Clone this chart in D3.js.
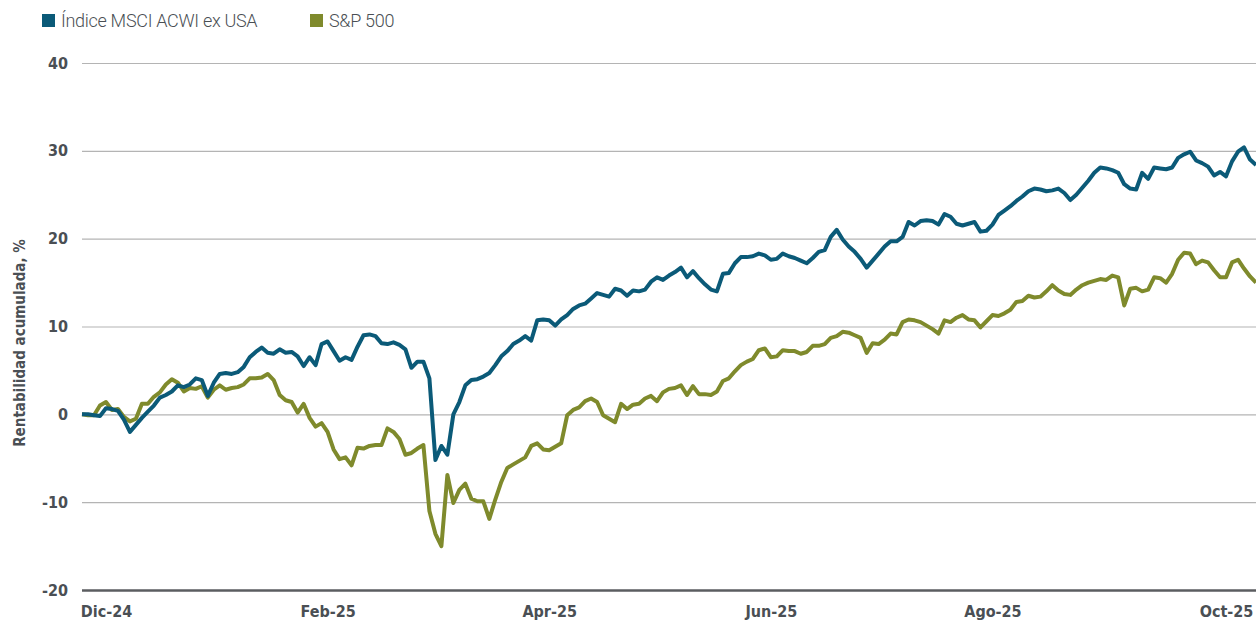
<!DOCTYPE html>
<html>
<head>
<meta charset="utf-8">
<script src="https://cdnjs.cloudflare.com/ajax/libs/d3/7.8.5/d3.min.js"></script>
<style>
  body { margin: 0; background: #fff; }
  .tick text { font-family: "DejaVu Sans Condensed", "DejaVu Sans", sans-serif; font-weight: bold; fill: #4a4f54; }
  .legend text { font-family: Roboto, sans-serif; font-weight: 300; fill: #4a4f54; letter-spacing: -0.3px; }
</style>
</head>
<body>
<div class="chart"></div>
<script>
// acumulado desde 31-dic-2024, %, un punto por sesión (aprox.)
var msci = [
  0.0, 0.0, -0.1, -0.2, 0.7, 0.6, 0.4, -0.6, -2.0, -1.2,
  -0.4, 0.3, 1.0, 1.9, 2.2, 2.6, 3.3, 3.1, 3.4, 4.1,
  3.9, 2.1, 3.6, 4.6, 4.7, 4.6, 4.8, 5.4, 6.5, 7.1,
  7.6, 7.0, 6.9, 7.4, 7.0, 7.1, 6.6, 5.5, 6.5, 5.6,
  8.0, 8.3, 7.2, 6.1, 6.5, 6.2, 7.7, 9.0, 9.1, 8.9,
  8.1, 8.0, 8.2, 7.9, 7.4, 5.3, 6.0, 6.0, 4.1, -5.2,
  -3.6, -4.6, 0.0, 1.4, 3.3, 3.9, 4.0, 4.3, 4.7, 5.6,
  6.6, 7.2, 8.0, 8.4, 8.9, 8.4, 10.7, 10.8, 10.7, 10.1,
  10.8, 11.3, 12.0, 12.4, 12.6, 13.2, 13.8, 13.6, 13.4, 14.3,
  14.1, 13.5, 14.1, 14.0, 14.2, 15.1, 15.6, 15.3, 15.8, 16.2,
  16.7, 15.6, 16.3, 15.5, 14.8, 14.2, 14.0, 16.0, 16.1, 17.2,
  17.9, 17.9, 18.0, 18.3, 18.1, 17.6, 17.7, 18.3, 18.0, 17.8,
  17.5, 17.2, 17.8, 18.5, 18.7, 20.2, 21.0, 19.9, 19.1, 18.5,
  17.7, 16.7, 17.5, 18.3, 19.1, 19.7, 19.7, 20.2, 21.9, 21.5,
  22.0, 22.1, 22.0, 21.6, 22.8, 22.5, 21.7, 21.5, 21.7, 21.9,
  20.8, 20.9, 21.6, 22.7, 23.2, 23.7, 24.3, 24.8, 25.4, 25.7,
  25.6, 25.4, 25.5, 25.7, 25.2, 24.4, 25.0, 25.8, 26.6, 27.5,
  28.1, 28.0, 27.8, 27.5, 26.2, 25.7, 25.6, 27.5, 26.8, 28.1,
  28.0, 27.9, 28.1, 29.2, 29.6, 29.9, 28.9, 28.6, 28.2, 27.2,
  27.6, 27.1, 28.8, 29.9, 30.4, 29.0, 28.4
];

var sp500 = [
  0.0, -0.1, -0.1, 1.0, 1.4, 0.5, 0.6, -0.3, -0.8, -0.5,
  1.2, 1.2, 2.0, 2.5, 3.4, 4.0, 3.6, 2.6, 3.0, 2.9,
  3.2, 1.9, 2.8, 3.3, 2.8, 3.0, 3.1, 3.4, 4.1, 4.1,
  4.2, 4.6, 3.9, 2.2, 1.6, 1.4, 0.2, 1.2, -0.4, -1.4,
  -1.0, -2.0, -4.0, -5.1, -4.9, -5.8, -3.8, -3.9, -3.6, -3.5,
  -3.5, -1.6, -2.0, -2.8, -4.6, -4.4, -3.9, -3.5, -11.0, -13.6,
  -15.0, -6.9, -10.1, -8.6, -7.9, -9.6, -9.9, -9.9, -11.9, -9.7,
  -7.7, -6.1, -5.7, -5.3, -4.9, -3.6, -3.3, -4.0, -4.1, -3.7,
  -3.3, -0.1, 0.5, 0.8, 1.5, 1.8, 1.4, -0.1, -0.5, -0.9,
  1.2, 0.6, 1.1, 1.2, 1.8, 2.1, 1.5, 2.5, 2.9, 3.0,
  3.3, 2.2, 3.2, 2.3, 2.3, 2.2, 2.6, 3.8, 4.1, 4.9,
  5.6, 6.0, 6.3, 7.3, 7.5, 6.5, 6.6, 7.3, 7.2, 7.2,
  6.9, 7.1, 7.8, 7.8, 8.0, 8.7, 8.9, 9.4, 9.3, 9.0,
  8.7, 7.0, 8.1, 8.0, 8.5, 9.2, 9.1, 10.5, 10.8, 10.7,
  10.5, 10.1, 9.7, 9.2, 10.7, 10.5, 11.0, 11.3, 10.8, 10.7,
  9.9, 10.6, 11.3, 11.2, 11.5, 11.9, 12.8, 12.9, 13.5, 13.3,
  13.4, 14.0, 14.7, 14.1, 13.7, 13.6, 14.2, 14.7, 15.0, 15.2,
  15.4, 15.3, 15.8, 15.6, 12.4, 14.3, 14.4, 14.0, 14.2, 15.6,
  15.5, 15.0, 16.0, 17.6, 18.4, 18.3, 17.1, 17.5, 17.3, 16.4,
  15.6, 15.6, 17.3, 17.6, 16.6, 15.7, 15.0
];

var tickIdx = [4, 41, 78, 115, 152, 191],
tickLabels = ["Dic-24", "Feb-25", "Apr-25", "Jun-25", "Ago-25", "Oct-25"],
yTicks = [-20, -10, 0, 10, 20, 30, 40],
seriesNames = ["Índice MSCI ACWI ex USA", "S&P 500"];

var colors = ["#0b5a78", "#7f8a2c"],
w = 1256,
h = 621,
padL = 82,
padT = 63,
baseY = 590;

var svg = d3.select(".chart")
  .append("svg")
  .attr("width", w)
  .attr("height", h);

var x = d3.scaleLinear()
  .domain([0, msci.length - 1])
  .range([padL, w]);

var y = d3.scaleLinear()
  .domain([-20, 40])
  .range([baseY, padT]);

// rejilla horizontal + etiquetas del eje y
var yAxis = svg.append("g")
  .attr("transform", "translate(" + padL + ",0)")
  .call(d3.axisLeft(y).tickValues(yTicks).tickFormat(d => String(d)).tickSize(-(w - padL)).tickPadding(14));

yAxis.select(".domain").remove();
yAxis.selectAll(".tick line")
  .attr("stroke", d => d === -20 ? "#5b5d60" : "#b4b4b4")
  .attr("stroke-width", d => d === -20 ? 2.5 : 1.2);
yAxis.selectAll(".tick text")
  .style("font-size", "16px");

// eje x
var xAxis = svg.append("g")
  .attr("transform", "translate(0," + baseY + ")")
  .call(d3.axisBottom(x).tickValues(tickIdx).tickFormat((d, i) => tickLabels[i]).tickSize(0).tickPadding(16));

xAxis.select(".domain").remove();
xAxis.selectAll(".tick text").style("font-size", "16px");

svg.append("text")
  .attr("transform", "translate(25,343) rotate(-90)")
  .attr("text-anchor", "middle")
  .style("font-family", "'DejaVu Sans Condensed', 'DejaVu Sans', sans-serif")
  .style("font-weight", "bold")
  .style("font-size", "15px")
  .style("fill", "#4a4f54")
  .text("Rentabilidad acumulada, %");

var line = d3.line()
  .x((d, i) => x(i))
  .y(d => y(d));

svg.append("path")
  .datum(sp500)
  .attr("fill", "none")
  .attr("stroke", colors[1])
  .attr("stroke-width", 4)
  .attr("stroke-linejoin", "round")
  .attr("d", line);

svg.append("path")
  .datum(msci)
  .attr("fill", "none")
  .attr("stroke", colors[0])
  .attr("stroke-width", 4)
  .attr("stroke-linejoin", "round")
  .attr("d", line);

// leyenda
var legend = svg.append("g").attr("class", "legend");
var legX = [42, 310];

legend.selectAll("rect")
  .data(seriesNames)
  .enter()
  .append("rect")
  .attr("x", (d, i) => legX[i])
  .attr("y", 14)
  .attr("width", 13)
  .attr("height", 13)
  .attr("fill", (d, i) => colors[i]);

legend.selectAll("text")
  .data(seriesNames)
  .enter()
  .append("text")
  .attr("x", (d, i) => legX[i] + 19)
  .attr("y", 27)
  .style("font-size", "18px")
  .text(d => d);
</script>
</body>
</html>
